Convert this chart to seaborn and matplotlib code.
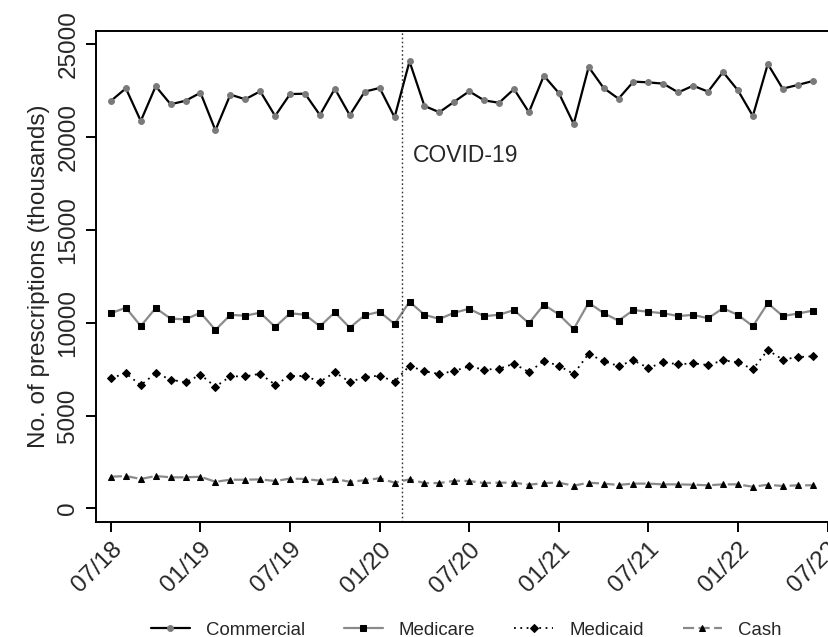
import numpy as np
import pandas as pd
import matplotlib
matplotlib.use("Agg")
import matplotlib.pyplot as plt
import seaborn as sns

# Monthly prescriptions (thousands), 07/18 .. 06/22
months = np.arange(48)
commercial = [21950, 22630, 20870, 22740, 21770, 21960, 22390, 20370, 22290, 22040,
              22470, 21140, 22320, 22340, 21190, 22610, 21180, 22450, 22650, 21070,
              24080, 21680, 21340, 21910, 22470, 21980, 21850, 22590, 21340, 23310,
              22380, 20710, 23780, 22650, 22070, 22990, 22950, 22880, 22410, 22770,
              22450, 23510, 22520, 21140, 23940, 22610, 22810, 23020]
medicare = [10510, 10810, 9820, 10790, 10220, 10180, 10540, 9610, 10420, 10380,
            10540, 9770, 10510, 10430, 9810, 10560, 9730, 10400, 10590, 9930,
            11130, 10430, 10200, 10540, 10750, 10350, 10430, 10680, 9970, 10970,
            10450, 9660, 11080, 10520, 10110, 10680, 10590, 10510, 10360, 10420,
            10240, 10780, 10420, 9810, 11050, 10360, 10490, 10650]
medicaid = [7020, 7270, 6630, 7290, 6930, 6790, 7200, 6550, 7110, 7110,
            7250, 6660, 7130, 7130, 6820, 7330, 6810, 7070, 7150, 6820,
            7680, 7380, 7240, 7400, 7650, 7470, 7520, 7790, 7340, 7940,
            7680, 7240, 8330, 7920, 7670, 7970, 7560, 7870, 7760, 7810,
            7720, 7970, 7870, 7490, 8530, 8010, 8150, 8190]
cash = [1700, 1740, 1580, 1740, 1670, 1670, 1700, 1430, 1540, 1540,
        1560, 1470, 1600, 1580, 1490, 1580, 1430, 1510, 1620, 1380,
        1560, 1360, 1360, 1480, 1470, 1360, 1380, 1380, 1270, 1360,
        1380, 1220, 1380, 1330, 1260, 1330, 1330, 1290, 1290, 1270,
        1240, 1290, 1290, 1160, 1270, 1200, 1240, 1240]

tick_pos = [0, 6, 12, 18, 24, 30, 36, 42, 48]
tick_labels = ["07/18", "01/19", "07/19", "01/20", "07/20", "01/21", "07/21", "01/22", "07/22"]
covid_month = 19.5
y_ticks = [0, 5000, 10000, 15000, 20000, 25000]

sns.set_theme(style="ticks")
plt.rcParams['font.family'] = ['Liberation Sans', 'DejaVu Sans']

fig = plt.figure(figsize=(8.29, 6.37), dpi=100)
ax = fig.add_axes([0.1158, 0.181, 0.8842, 0.7703])

grey = "#8a8a8a"
sns.lineplot(x=months, y=commercial, ax=ax, color="black", lw=1.6,
             marker="o", markersize=4.2, markerfacecolor="#7a7a7a",
             markeredgecolor="#7a7a7a", label="Commercial")
sns.lineplot(x=months, y=medicare, ax=ax, color=grey, lw=1.6,
             marker="s", markersize=4.0, markerfacecolor="black",
             markeredgecolor="black", label="Medicare")
sns.lineplot(x=months, y=medicaid, ax=ax, color="black", lw=1.3,
             linestyle=(0, (1, 2.5)), marker="D", markersize=4.2,
             markerfacecolor="black", markeredgecolor="black", label="Medicaid")
sns.lineplot(x=months, y=cash, ax=ax, color=grey, lw=1.6,
             linestyle=(0, (5, 2)), marker="^", markersize=5,
             markerfacecolor="black", markeredgecolor="black", label="Cash")

ax.axvline(covid_month, color="#333333", lw=1.0, linestyle=(0, (1.2, 1.8)))
ax.text(covid_month + 0.7, 19000, "COVID-19", fontsize=16.5, va="center", ha="left")

ax.set_xlim(-1.0, 48.1)
ax.set_ylim(-722, 25717)
ax.set_xticks(tick_pos)
ax.set_xticklabels(tick_labels, rotation=45, ha="right", rotation_mode="anchor", fontsize=17.5)
ax.set_yticks(y_ticks)
ax.set_yticklabels([str(v) for v in y_ticks], rotation=90, va="center", fontsize=17.5)
ax.set_ylabel("No. of prescriptions (thousands)", fontsize=17.5, labelpad=5)
ax.set_xlabel("")

for s in ["left", "bottom", "top"]:
    ax.spines[s].set_linewidth(1.4)
    ax.spines[s].set_color("black")
ax.spines["right"].set_visible(False)
ax.tick_params(axis="both", direction="out", length=7, width=1.4, color="black", pad=5)

handles, labels = ax.get_legend_handles_labels()
ax.get_legend().remove()
fig.legend(handles, labels, loc="center", bbox_to_anchor=(0.562, 0.011), ncol=4,
           frameon=False, fontsize=13.4, handlelength=2.1, columnspacing=2.1,
           handletextpad=0.85)

fig.savefig("out.png", dpi=100)
